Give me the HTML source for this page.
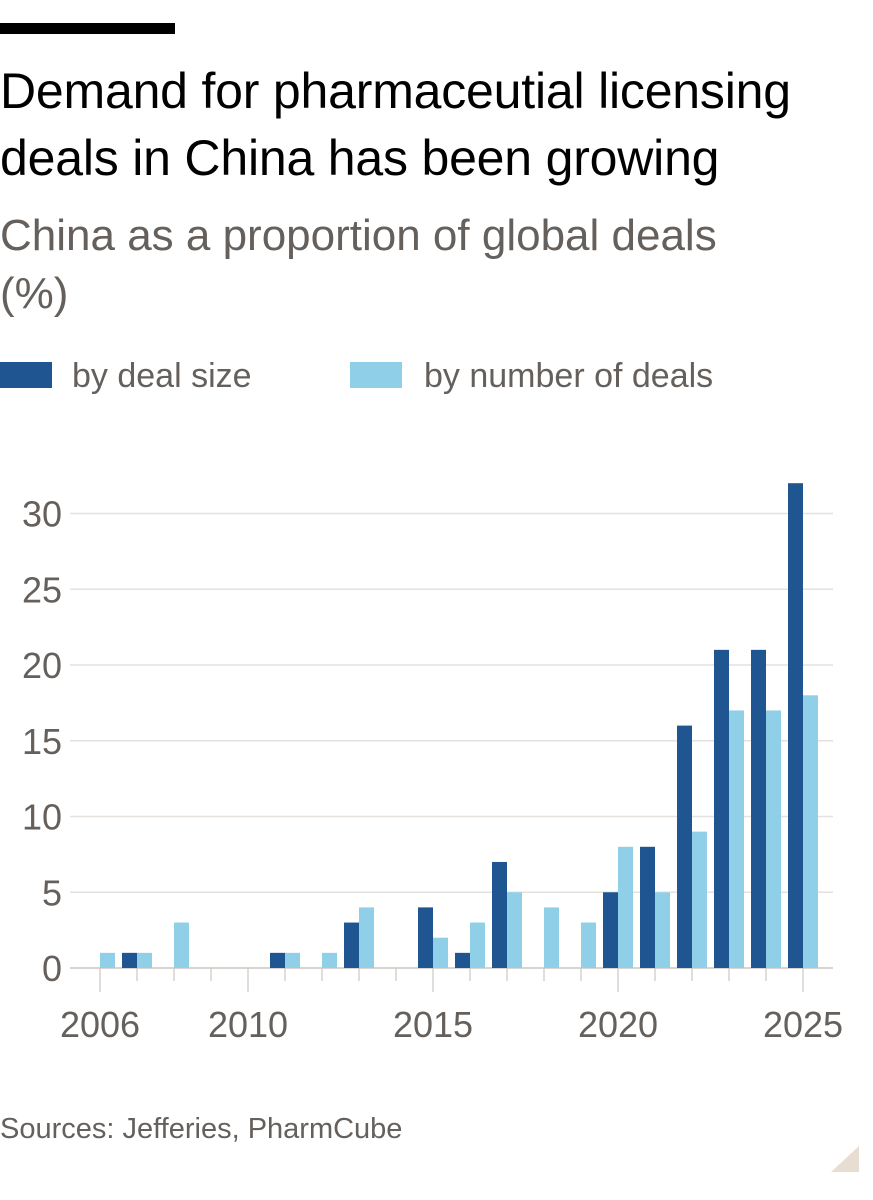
<!DOCTYPE html>
<html><head><meta charset="utf-8"><style>
html,body{margin:0;padding:0;background:#fff;}
body{width:873px;height:1200px;position:relative;overflow:hidden;font-family:"Liberation Sans",sans-serif;}
.t{position:absolute;left:0;white-space:nowrap;}
</style></head><body>
<div style="position:absolute;left:0;top:23px;width:175px;height:11px;background:#000"></div>
<div class="t" style="top:58px;font-size:50px;line-height:67px;color:#000;letter-spacing:-0.2px">Demand for pharmaceutial licensing<br>deals in China has been growing</div>
<div class="t" style="top:207px;font-size:44px;line-height:58px;color:#66605c">China as a proportion of global deals<br>(%)</div>
<div style="position:absolute;left:0;top:362px;width:52px;height:26px;background:#1f5591"></div>
<div class="t" style="left:72px;top:357px;font-size:34px;line-height:38px;color:#66605c">by deal size</div>
<div style="position:absolute;left:350px;top:362px;width:52px;height:26px;background:#8fd0e8"></div>
<div class="t" style="left:424px;top:357px;font-size:34px;line-height:38px;color:#66605c">by number of deals</div>
<svg id="chart" width="873" height="1100" style="position:absolute;left:0;top:0"></svg>
<div class="t" style="top:1113px;font-size:29px;color:#66605c">Sources: Jefferies, PharmCube</div>
<svg width="40" height="40" style="position:absolute;left:825px;top:1140px"><polygon points="34,6 34,32 6,32" fill="#e8ddd3"/></svg>
<script>
const years=[2006,2007,2008,2009,2010,2011,2012,2013,2014,2015,2016,2017,2018,2019,2020,2021,2022,2023,2024,2025];
const dealSize=[0,1,0,0,0,1,0,3,0,4,1,7,0,0,5,8,16,21,21,32];
const dealCount=[1,1,3,0,0,1,1,4,0,2,3,5,4,3,8,5,9,17,17,18];
const yTicks=[0,5,10,15,20,25,30];
const xLabels=[2006,2010,2015,2020,2025];
const svg=document.getElementById('chart');
const NS='http://www.w3.org/2000/svg';
const x=yr=>100+(yr-2006)*37;
const y=v=>968-v*15.15;
function mk(tag,attrs){const e=document.createElementNS(NS,tag);for(const k in attrs)e.setAttribute(k,attrs[k]);svg.appendChild(e);return e;}
yTicks.forEach(v=>{
  const l=mk('line',{x1:70,x2:833,y1:y(v),y2:y(v),stroke:v===0?'#ccc6c0':'#e6e1dc','stroke-width':1.5});
  
  
  const t=mk('text',{x:62,y:y(v)+13,'text-anchor':'end','font-size':36,fill:'#66605c','font-family':'Liberation Sans, sans-serif'});
  t.textContent=v;
  
  
});
years.forEach(yr=>{
  const major=xLabels.includes(yr);
  const tk=mk('line',{x1:x(yr),x2:x(yr),y1:968,y2:major?992:981,stroke:'#ccc6c0','stroke-width':1.2});
  
  
});
years.forEach((yr,i)=>{
  if(dealSize[i]>0){
    const r=mk('rect',{x:x(yr)-15,y:y(dealSize[i]),width:15,height:968-y(dealSize[i]),fill:'#1f5591'});
    
    
  }
  if(dealCount[i]>0){
    const r=mk('rect',{x:x(yr),y:y(dealCount[i]),width:15,height:968-y(dealCount[i]),fill:'#8fd0e8'});
    
    
  }
});
xLabels.forEach(yr=>{
  const t=mk('text',{x:x(yr),y:1037,'text-anchor':'middle','font-size':36,fill:'#66605c','font-family':'Liberation Sans, sans-serif'});
  t.textContent=yr;
  
  
});
</script>
</body></html>
